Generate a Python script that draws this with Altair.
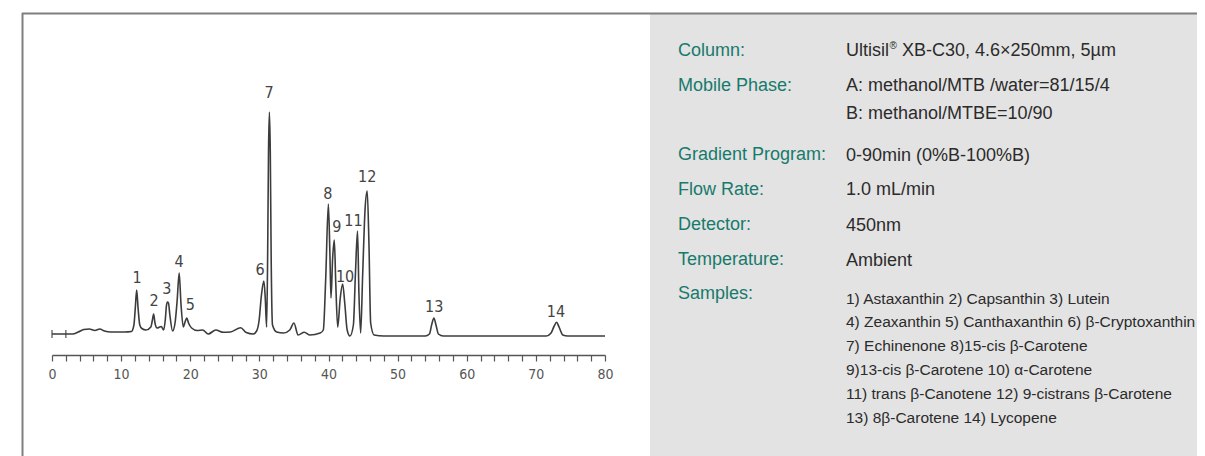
import altair as alt
import pandas as pd

# ---------------- chromatogram (retention time in min, detector signal) ----------------
retention_time = [
    0, 2, 3, 3.8, 4.6, 5.4, 6.2, 6.9, 7.6, 8.5, 10.5, 11.5,
    11.85, 12.05, 12.25, 12.45, 12.7, 13.0, 13.6,
    14.3, 14.5, 14.7, 14.9, 15.2, 15.8, 16.15,
    16.4, 16.55, 16.7, 16.85, 17.05, 17.45,
    17.8, 18.1, 18.4, 18.65, 19.0,
    19.25, 19.5, 19.75, 20.2, 21.0, 21.8, 22.6, 23.7, 24.8, 25.8, 27.3, 28.1, 29.1,
    29.6, 29.95, 30.3, 30.65, 30.85, 31.05,
    31.2, 31.32, 31.45, 31.58, 31.7, 31.9, 32.5, 33.5, 34.4, 35.0, 35.6, 36.5, 37.3, 38.8,
    39.25, 39.6, 39.98, 40.2, 40.36,
    40.6, 40.84, 41.05, 41.33,
    41.7, 42.05, 42.35, 42.7, 43.1,
    43.6, 43.9, 44.2, 44.4, 44.65,
    44.95, 45.3, 45.6, 45.85, 46.1, 46.6, 48,
    54, 54.6, 54.95, 55.25, 55.55, 55.9, 56.6,
    71.5, 72.2, 72.65, 73.0, 73.35, 73.9, 74.6, 80,
]
signal = [
    -1, -1, -1, 1, 3.5, 4, 2.5, 4, 2, 1, 1, 1.5,
    8, 25, 43, 25, 8, 4.5, 3,
    6, 12, 19, 10, 5, 6.5, 3,
    14, 27, 31, 30, 18, 2,
    10, 32, 60, 30, 6,
    11, 15, 10, 5, 2.5, 3, -1, 3, 0.7, 1, 5.3, 0.5, -1,
    2, 12, 38, 52, 35, 6,
    80, 180, 221, 180, 80, 8, 1, 0, 3, 10, -2, 0.7, -2, 0,
    3, 55, 129, 80, 35,
    75, 93, 50, 6,
    35, 49, 30, 3, -3,
    8, 60, 102, 40, 0,
    60, 125, 142, 90, 10, -2, -3,
    -3, -1, 9, 15, 8, -1, -3,
    -3, 0, 7, 10.7, 6, -2, -3, -3,
]
injection_marks = [0, 2]

# peak numbers and where their labels sit (time, signal level)
peak_no = ["1", "2", "3", "4", "5", "6", "7", "8", "9", "10", "11", "12", "13", "14"]
label_time = [12.3, 14.75, 16.6, 18.4, 20.0, 30.1, 31.4, 39.9, 41.2, 42.4, 43.6, 45.6, 55.3, 72.9]
label_level = [55, 32, 44, 71, 28, 63, 240, 139, 106, 56, 112, 156, 26, 21]

# ---------------- conditions panel text ----------------
param_names = ["Column:", "Mobile Phase:", "Gradient Program:", "Flow Rate:",
               "Detector:", "Temperature:", "Samples:"]
column_name = ["Ultisil", "®", "XB-C30, 4.6×250mm, 5µm"]
param_values = ["A: methanol/MTB /water=81/15/4", "B: methanol/MTBE=10/90",
                "0-90min (0%B-100%B)", "1.0 mL/min", "450nm", "Ambient"]
sample_lines = [
    "1) Astaxanthin 2) Capsanthin 3) Lutein",
    "4) Zeaxanthin 5) Canthaxanthin 6) β-Cryptoxanthin",
    "7) Echinenone 8)15-cis β-Carotene",
    "9)13-cis β-Carotene 10) α-Carotene",
    "11) trans β-Canotene 12) 9-cistrans β-Carotene",
    "13) 8β-Carotene 14) Lycopene",
]

# ---------------- layout (pixels inside the chart) ----------------
W, H = 1189, 448
NAME_Y = [43, 78, 147, 182, 217, 252, 286]
VALUE_Y = [77.5, 106, 148, 182, 218, 253]
SAMPLE_Y = [291, 314, 338, 362, 386, 410]
NAME_X, VALUE_X = 670, 838

x_scale = alt.Scale(domain=[0, 80], range=[44, 597], nice=False, zero=False)
y_scale = alt.Scale(domain=[0, 250], range=[325, 75], nice=False, zero=False)

one = pd.DataFrame({"k": [0]})

panel = alt.Chart(one).mark_rect(color="#e3e3e3").encode(
    x=alt.value(642), x2=alt.value(W), y=alt.value(6), y2=alt.value(H)
)
border_top = alt.Chart(one).mark_rule(color="#7f7f7f", strokeWidth=2).encode(
    x=alt.value(14), x2=alt.value(W), y=alt.value(5.5)
)
border_left = alt.Chart(one).mark_rule(color="#7f7f7f", strokeWidth=2).encode(
    x=alt.value(14.5), y=alt.value(5), y2=alt.value(H)
)

trace_df = pd.DataFrame({"t": retention_time, "s": signal})
axis = alt.Axis(
    values=list(range(0, 81, 2)),
    labelExpr="datum.value % 10 === 0 ? datum.label : ''",
    offset=-(H - 347), grid=False, title=None,
    domainColor="#555555", domainWidth=1.5,
    tickColor="#555555", tickWidth=1.2, tickSize=6,
    labelFont="DejaVu Sans Condensed, DejaVu Sans", labelFontSize=14,
    labelColor="#555555", labelPadding=6, labelFlush=False, labelOverlap=False,
)
trace = alt.Chart(trace_df).mark_line(
    interpolate="monotone", color="#3c3c3c", strokeWidth=1.6
).encode(
    x=alt.X("t:Q", scale=x_scale, axis=axis),
    y=alt.Y("s:Q", scale=y_scale, axis=None),
)

inj_df = pd.DataFrame({"t": injection_marks, "s": [-1] * len(injection_marks)})
inj = alt.Chart(inj_df).mark_tick(orient="vertical", size=8, thickness=1.5, color="#3c3c3c").encode(
    x=alt.X("t:Q", scale=x_scale, axis=None),
    y=alt.Y("s:Q", scale=y_scale, axis=None),
)

lab_df = pd.DataFrame({"t": label_time, "s": label_level, "n": peak_no})
labels = alt.Chart(lab_df).mark_text(
    font="DejaVu Sans Condensed, DejaVu Sans", fontSize=16, color="#444444",
    align="center", baseline="middle",
).encode(
    x=alt.X("t:Q", scale=x_scale, axis=None),
    y=alt.Y("s:Q", scale=y_scale, axis=None),
    text="n:N",
)

text_font = "Liberation Sans, Arial"
names_df = pd.DataFrame({"txt": param_names, "py": NAME_Y})
names = alt.Chart(names_df).mark_text(
    font=text_font, fontSize=18, color="#177a6c", align="left", baseline="middle"
).encode(x=alt.value(NAME_X), y=alt.Y("py:Q", scale=None, axis=None), text="txt:N")

vals_df = pd.DataFrame({"txt": param_values, "py": VALUE_Y})
vals = alt.Chart(vals_df).mark_text(
    font=text_font, fontSize=18, color="#2b2b2b", align="left", baseline="middle"
).encode(x=alt.value(VALUE_X), y=alt.Y("py:Q", scale=None, axis=None), text="txt:N")

col1 = alt.Chart(one).mark_text(
    font=text_font, fontSize=18, color="#2b2b2b", align="left", baseline="middle"
).encode(x=alt.value(VALUE_X), y=alt.value(43), text=alt.value(column_name[0]))
col2 = alt.Chart(one).mark_text(
    font=text_font, fontSize=10, color="#2b2b2b", align="left", baseline="middle"
).encode(x=alt.value(VALUE_X + 43.5), y=alt.value(38), text=alt.value(column_name[1]))
col3 = alt.Chart(one).mark_text(
    font=text_font, fontSize=18, color="#2b2b2b", align="left", baseline="middle"
).encode(x=alt.value(VALUE_X + 56), y=alt.value(43), text=alt.value(column_name[2]))

samp_df = pd.DataFrame({"txt": sample_lines, "py": SAMPLE_Y})
samples = alt.Chart(samp_df).mark_text(
    font=text_font, fontSize=15.5, color="#2b2b2b", align="left", baseline="middle"
).encode(x=alt.value(VALUE_X), y=alt.Y("py:Q", scale=None, axis=None), text="txt:N")

chart = alt.layer(
    panel, border_top, border_left, trace, inj, labels,
    names, vals, col1, col2, col3, samples,
).resolve_scale(x="independent", y="independent").properties(
    width=W, height=H, autosize=alt.AutoSizeParams(type="none"), padding=0,
    background="white",
).configure_view(stroke=None)

chart.save("out.html", embed_options={"renderer": "svg", "actions": False})
